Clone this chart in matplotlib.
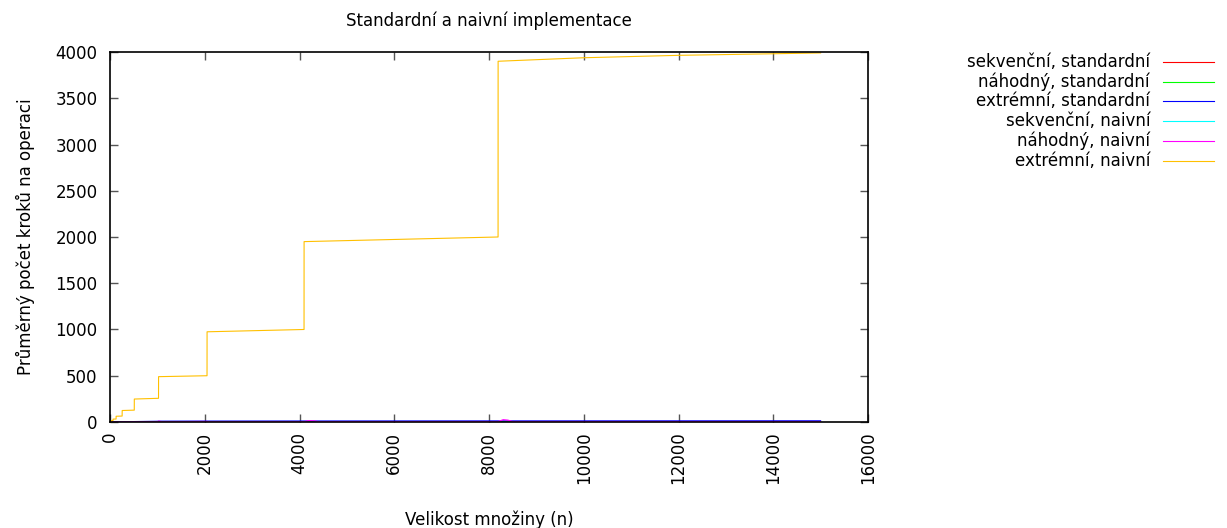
import matplotlib
matplotlib.use("Agg")
import matplotlib.pyplot as plt
from matplotlib.lines import Line2D

plt.rcParams["font.family"] = ["DejaVu Sans"]
plt.rcParams["font.size"] = 12

# data
labels = ["sekvenční, standardní", "náhodný, standardní", "extrémní, standardní",
          "sekvenční, naivní", "náhodný, naivní", "extrémní, naivní"]
colors = ["#ff0000", "#00ff00", "#0000ff", "#00ffff", "#ff00ff", "#ffc000"]

n_small = [1, 1000, 1024, 1100, 2048, 2100, 4096, 4200, 4300, 4400,
           8192, 8300, 8400, 8500, 15000]
seq_std = [1, 1, 1, 1, 1, 1, 1, 1, 1, 1, 1, 1, 1, 1, 1]
rnd_std = [2, 3, 3, 3, 3, 3, 4, 4, 4, 4, 4, 4, 4, 4, 4]
ext_std = [1, 8, 9, 9, 10, 10, 11, 11, 11, 11, 12, 12, 12, 12, 13]
seq_nai = [1, 1, 1, 1, 1, 1, 1, 1, 1, 1, 1, 1, 1, 1, 1]
rnd_nai = [1, 3, 10, 3, 6, 3, 4, 15, 12, 4, 5, 25, 20, 5, 5]

n_ext = [1, 31, 32, 63, 64, 127, 128, 255, 256, 511, 512, 1023, 1024, 2047,
         2048, 4095, 4096, 8191, 8192, 10000, 12000, 14000, 15000]
ext_nai = [0, 8, 15, 16, 31, 32, 62, 64, 124, 128, 248, 256, 490, 500,
           975, 1000, 1950, 2000, 3900, 3938, 3964, 3981, 3990]

series = [(n_small, seq_std), (n_small, rnd_std), (n_small, ext_std),
          (n_small, seq_nai), (n_small, rnd_nai), (n_ext, ext_nai)]

fig = plt.figure(figsize=(12.27, 5.28), dpi=100)
ax = fig.add_axes([0.0897, 0.2008, 0.6177, 0.7007])

for (x, y), c in zip(series, colors):
    ax.plot(x, y, color=c, lw=0.8)

ax.set_xlim(0, 16000)
ax.set_ylim(0, 4000)
ax.set_xticks(range(0, 16001, 2000))
ax.set_yticks(range(0, 4001, 500))
ax.tick_params(direction="in", length=6, width=1, color="#555555",
               top=True, right=True, labelsize=12)
ax.tick_params(axis="x", labelrotation=90, pad=7)
ax.tick_params(axis="y", pad=9)
for s in ax.spines.values():
    s.set_linewidth(1.2)

ax.set_title("Standardní a naivní implementace", fontsize=12, pad=19)
ax.set_xlabel("Velikost množiny (n)", fontsize=12, labelpad=19)
ax.set_ylabel("Průměrný počet kroků na operaci", fontsize=12, labelpad=15)

# gnuplot-style key: right-aligned text, sample line on the right
for i, (lab, c) in enumerate(zip(labels, colors)):
    yy = 1 - (61.7 + i * 19.8) / 528
    fig.text(1150 / 1227, yy, lab, ha="right", va="center", fontsize=12)
    fig.add_artist(Line2D([1163 / 1227, 1214 / 1227], [yy, yy], color=c, lw=0.8))

fig.savefig("out.png", dpi=100)
